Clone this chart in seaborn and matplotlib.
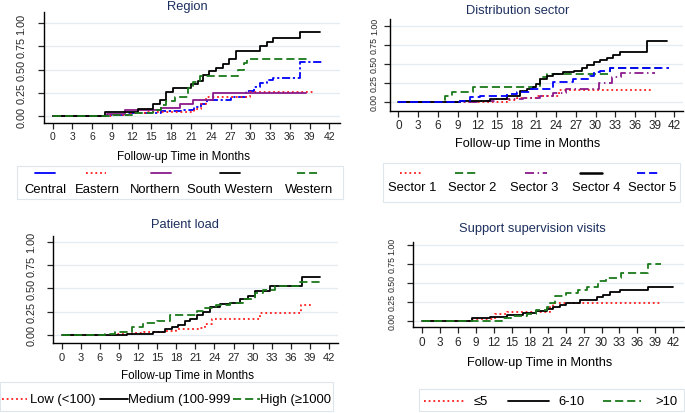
import matplotlib
matplotlib.use('Agg')
import matplotlib.pyplot as plt
import matplotlib.transforms as mtransforms
from matplotlib.lines import Line2D
from matplotlib.patches import Rectangle
import numpy as np
import pandas as pd
import seaborn as sns

# Kaplan-Meier Ausfallkurven (Zeit in Monaten, kumulierte Ausfallwahrscheinlichkeit)

# Region
central_t = [0, 8.5, 11.5, 16.5, 19.5, 21.5, 22.5, 23.5, 27.0, 29.3, 30.5, 31.5, 32.5, 33.5, 37.6, 41.0]
central_y = [0, 0.01, 0.03, 0.05, 0.07, 0.10, 0.13, 0.17, 0.21, 0.27, 0.31, 0.36, 0.39, 0.41, 0.58, 0.58]
eastern_t = [0, 9.0, 11.5, 14.0, 21.5, 22.5, 23.2, 30.0, 39.5]
eastern_y = [0, 0.01, 0.03, 0.045, 0.08, 0.13, 0.20, 0.255, 0.255]
northern_t = [0, 8.2, 11.0, 16.5, 19.3, 21.3, 24.4, 38.5]
northern_y = [0, 0.02, 0.07, 0.09, 0.13, 0.17, 0.245, 0.245]
southwest_t = [0, 8.0, 13.0, 15.3, 16.3, 17.2, 18.2, 21.0, 22.0, 22.8, 23.8, 24.8, 25.8, 26.8, 27.8,
               31.5, 32.5, 33.5, 37.6, 40.6]
southwest_y = [0, 0.04, 0.08, 0.13, 0.175, 0.26, 0.30, 0.34, 0.38, 0.44, 0.49, 0.52, 0.56, 0.61, 0.70,
               0.75, 0.80, 0.845, 0.90, 0.90]
western_t = [0, 8.5, 12.2, 15.3, 16.5, 17.2, 18.5, 20.5, 21.3, 22.3, 28.2, 29.0, 29.5, 39.0]
western_y = [0, 0.01, 0.03, 0.07, 0.12, 0.16, 0.20, 0.30, 0.37, 0.43, 0.50, 0.57, 0.61, 0.61]

# Distribution sector
sector1_t = [0, 16.5, 18.0, 21.0, 23.0, 24.5, 38.5]
sector1_y = [0, 0.02, 0.045, 0.07, 0.08, 0.16, 0.16]
sector2_t = [0, 7.1, 8.1, 11.4, 21.6, 22.6, 32.2, 40.0]
sector2_y = [0, 0.07, 0.13, 0.19, 0.32, 0.37, 0.44, 0.44]
sector3_t = [0, 12.0, 15.0, 19.0, 21.5, 23.5, 25.5, 30.5, 32.5, 33.8, 39.0]
sector3_y = [0, 0.01, 0.03, 0.045, 0.08, 0.12, 0.17, 0.25, 0.33, 0.38, 0.38]
sector4_t = [0, 9.4, 14.0, 16.5, 18.5, 19.5, 20.5, 21.0, 21.5, 22.6, 23.6, 25.1, 26.7, 27.9, 28.7,
             29.7, 30.7, 31.7, 32.7, 33.7, 37.8, 40.9]
sector4_y = [0, 0.01, 0.035, 0.08, 0.14, 0.17, 0.19, 0.235, 0.30, 0.34, 0.37, 0.39, 0.41, 0.45, 0.48,
             0.52, 0.55, 0.58, 0.61, 0.65, 0.80, 0.80]
sector5_t = [0, 9.4, 10.9, 12.4, 16.5, 18.0, 20.0, 23.6, 26.6, 29.2, 29.7, 30.7, 32.2, 41.1]
sector5_y = [0, 0.01, 0.06, 0.08, 0.10, 0.13, 0.17, 0.255, 0.30, 0.34, 0.39, 0.41, 0.44, 0.44]

# Patient load
low_t = [0, 8.5, 11.0, 13.0, 16.0, 18.0, 21.8, 22.5, 23.6, 31.2, 37.6, 39.5]
low_y = [0, 0.01, 0.02, 0.03, 0.04, 0.06, 0.07, 0.12, 0.17, 0.235, 0.325, 0.325]
medium_t = [0, 10.2, 14.4, 16.2, 17.3, 18.3, 19.4, 20.1, 21.2, 22.2, 23.3, 24.9, 26.4, 28.0, 29.3,
            30.3, 32.7, 37.7, 40.5]
medium_y = [0, 0.01, 0.035, 0.06, 0.08, 0.11, 0.147, 0.17, 0.214, 0.25, 0.30, 0.33, 0.345, 0.385, 0.42,
            0.475, 0.53, 0.62, 0.62]
high_t = [0, 6.8, 8.4, 11.0, 12.8, 14.9, 17.0, 21.2, 22.4, 24.2, 26.4, 28.5, 30.3, 31.6, 33.5, 37.5, 40.8]
high_y = [0, 0.01, 0.03, 0.08, 0.125, 0.147, 0.21, 0.26, 0.29, 0.32, 0.345, 0.385, 0.45, 0.48, 0.52,
          0.57, 0.57]

# Support supervision visits
le5_t = [0, 8.0, 12.2, 14.1, 21.4, 21.9, 40.0]
le5_y = [0, 0.02, 0.09, 0.12, 0.18, 0.23, 0.23]
mid_t = [0, 8.3, 11.3, 14.1, 16.9, 19.1, 20.8, 21.9, 23.0, 24.1, 26.4, 29.2, 30.3, 31.4, 33.1, 37.8, 42.0]
mid_y = [0, 0.03, 0.05, 0.075, 0.10, 0.13, 0.15, 0.177, 0.21, 0.24, 0.27, 0.31, 0.34, 0.375, 0.41,
         0.44, 0.44]
gt10_t = [0, 13.3, 15.2, 17.5, 19.1, 20.8, 21.4, 22.2, 24.1, 26.1, 27.5, 29.4, 30.8, 33.3, 37.8, 40.0]
gt10_y = [0, 0.03, 0.06, 0.09, 0.14, 0.18, 0.24, 0.32, 0.366, 0.40, 0.45, 0.53, 0.57, 0.625, 0.75, 0.75]

xticks = list(range(0, 43, 3))
yticks = [0, 0.25, 0.5, 0.75, 1.0]

BLUE = '#0000ff'
RED = '#ff1a1a'
PURPLE = '#8b1a8b'
GREEN = '#1a7a1a'
BLACK = '#000000'
NAVY = '#1c2f5e'
GRID = '#e4ecf1'

sns.set_style('white')
plt.rcParams['font.family'] = ['Liberation Sans', 'DejaVu Sans']

fig = plt.figure(figsize=(6.85, 4.14), dpi=100)
# Pixel-Koordinaten (y nach unten) -> Figure
PX = mtransforms.Affine2D().scale(1 / 685, -1 / 414).translate(0, 1) + fig.transFigure


def make_ax(left, top, right, bottom, xlim, ylim, xfs, yfs, ypad):
    ax = fig.add_axes([left / 685, 1 - bottom / 414, (right - left) / 685, (bottom - top) / 414])
    ax.set_xlim(*xlim)
    ax.set_ylim(*ylim)
    ax.set_xticks(xticks)
    ax.set_yticks(yticks)
    ax.set_yticklabels([f'{v:.2f}' for v in yticks])
    ax.tick_params(axis='x', labelsize=xfs, length=4, width=0.9, pad=2, direction='out', bottom=True)
    ax.tick_params(axis='y', labelsize=yfs, length=4, width=0.9, pad=ypad, direction='out', left=True,
                   labelrotation=90)
    for lab in ax.get_yticklabels():
        lab.set_va('center')
    ax.grid(axis='y', color=GRID, lw=1.0)
    ax.grid(axis='x', visible=False)
    sns.despine(ax=ax)
    for s in ['left', 'bottom']:
        ax.spines[s].set_color('black')
        ax.spines[s].set_linewidth(1.0)
    ax.set_xlabel('')
    ax.set_ylabel('')
    return ax


def km(ax, t, y, color, dashes=None, lw=1.3):
    df = pd.DataFrame({'t': t, 'y': y})
    kws = {}
    if dashes is not None:
        kws['dashes'] = dashes
    sns.lineplot(data=df, x='t', y='y', ax=ax, color=color, lw=lw, drawstyle='steps-post',
                 estimator=None, legend=False, **kws)
    ax.set_xlabel('')
    ax.set_ylabel('')


def txt(x, y, s, size, color='black', ha='center'):
    fig.text(x, y, s, transform=PX, fontsize=size, color=color, ha=ha, va='center')


def handle(x0, x1, y, color, dashes=None, lw=1.3):
    ln = Line2D([x0, x1], [y, y], transform=PX, color=color, lw=lw)
    if dashes is not None:
        ln.set_dashes(dashes)
    fig.add_artist(ln)


def box(x0, y0, x1, y1):
    fig.add_artist(Rectangle((x0, y0), x1 - x0, y1 - y0, transform=PX, fill=False,
                             edgecolor='#dde6ec', lw=0.8))


DOT = (1.0, 1.6)
DASH = (4.5, 2.2)
LDASH_DOT = (4.5, 1.5, 1.2, 1.5)
DASH_DOT = (5.0, 2.0, 0.8, 2.0)

# --- Region ---
ax1 = make_ax(44, 13, 340, 124, (-1.3, 43.6), (-0.075, 1.12), 7.5, 7.8, 8.5)
km(ax1, central_t, central_y, BLUE, LDASH_DOT)
km(ax1, eastern_t, eastern_y, RED, DOT)
km(ax1, northern_t, northern_y, PURPLE)
km(ax1, southwest_t, southwest_y, BLACK)
km(ax1, western_t, western_y, GREEN, DASH)
txt(187, 7, 'Region', 9.3, NAVY)
txt(184, 157, 'Follow-up Time in Months', 8.4)
box(17, 167, 343, 200)
for hx, lx, lab, col, ds in [(45.3, 45, 'Central', BLUE, None), (96.3, 97.5, 'Eastern', RED, DOT),
                             (161, 155.5, 'Northern', PURPLE, None),
                             (230.3, 229.8, 'South Western', BLACK, None),
                             (307.3, 309, 'Western', GREEN, DASH)]:
    handle(hx - 10, hx + 10, 174.3, col, ds)
    txt(lx, 190, lab, 9.4)

# --- Distribution sector ---
ax2 = make_ax(390, 20, 683, 111.7, (-1.27, 43.3), (-0.118, 1.09), 8.5, 6.3, 4)
km(ax2, sector1_t, sector1_y, RED, DOT)
km(ax2, sector2_t, sector2_y, GREEN, DASH)
km(ax2, sector3_t, sector3_y, PURPLE, DASH_DOT)
km(ax2, sector4_t, sector4_y, BLACK)
km(ax2, sector5_t, sector5_y, BLUE, DASH)
txt(518, 10.7, 'Distribution sector', 9.3, NAVY)
txt(528, 144, 'Follow-up Time in Months', 9.2)
box(383, 164, 680, 203)
for hx, lx, lab, col, ds, lw in [(410.8, 412.3, 'Sector 1', RED, DOT, 1.3),
                                 (466, 472.3, 'Sector 2', GREEN, DASH, 1.3),
                                 (535.8, 534.5, 'Sector 3', PURPLE, DASH_DOT, 1.3),
                                 (591.3, 595.8, 'Sector 4', BLACK, None, 1.8),
                                 (648, 652.3, 'Sector 5', BLUE, DASH, 1.3)]:
    handle(hx - 11, hx + 11, 174, col, ds, lw)
    txt(lx, 188, lab, 9.4)

# --- Patient load ---
ax3 = make_ax(53, 236.7, 338, 344.3, (-1.36, 43.4), (-0.09, 1.065), 8, 7.8, 8)
km(ax3, low_t, low_y, RED, DOT)
km(ax3, medium_t, medium_y, BLACK)
km(ax3, high_t, high_y, GREEN, DASH)
txt(185, 225, 'Patient load', 9.3, NAVY)
txt(188, 375.7, 'Follow-up Time in Months', 8.4)
box(0, 383, 333, 412)
for x0, x1, lx, lab, col, ds in [(2, 27, 30, 'Low (<100)', RED, DOT),
                                 (100, 128, 128, 'Medium (100-999', BLACK, None),
                                 (233, 260, 260, 'High (≥1000', GREEN, DASH)]:
    handle(x0, x1, 400, col, ds)
    txt(lx, 400, lab, 9.4, ha='left')

# --- Support supervision visits ---
ax4 = make_ax(413.3, 243.3, 684, 328.3, (-1.5, 43.8), (-0.087, 1.035), 8.5, 6.3, 8)
km(ax4, le5_t, le5_y, RED, DOT)
km(ax4, mid_t, mid_y, BLACK)
km(ax4, gt10_t, gt10_y, GREEN, DASH)
txt(532, 229, 'Support supervision visits', 9.3, NAVY)
txt(540, 363, 'Follow-up Time in Months', 9.2)
box(419, 390, 684, 411.7)
for x0, x1, lx, lab, col, ds in [(424, 464, 474, '≤5', RED, DOT),
                                 (508, 549, 558, '6-10', BLACK, None),
                                 (603, 641, 655, '>10', GREEN, DASH)]:
    handle(x0, x1, 401.7, col, ds)
    txt(lx, 401.7, lab, 9.4, ha='left')

fig.savefig('out.png', dpi=100, facecolor='white')
